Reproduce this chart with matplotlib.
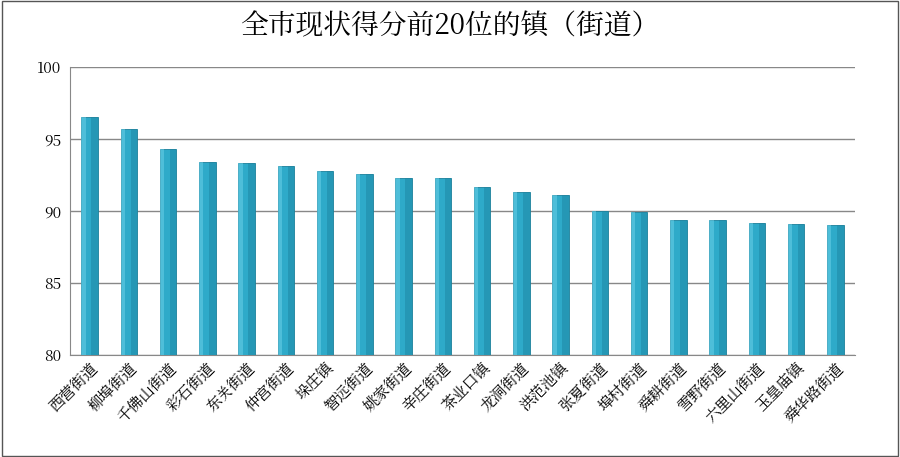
import matplotlib
matplotlib.use("Agg")
import matplotlib.pyplot as plt
from matplotlib import font_manager as fm
from matplotlib.patches import Rectangle
import numpy as np

cjk = None
for f in fm.findSystemFonts():
    if "CJK" in f or "cjk" in f.lower():
        try:
            fm.fontManager.addfont(f)
            name = fm.FontProperties(fname=f).get_name()
            if cjk is None or "SC" in name:
                cjk = name
        except Exception:
            pass
plt.rcParams["font.family"] = [n for n in [cjk, "Noto Sans CJK SC", "DejaVu Sans"] if n]

categories = ["西营街道", "柳埠街道", "千佛山街道", "彩石街道", "东关街道", "仲宫街道", "垛庄镇",
              "智远街道", "姚家街道", "辛庄街道", "茶业口镇", "龙洞街道", "洪范池镇", "张夏街道",
              "埠村街道", "舜耕街道", "雪野街道", "六里山街道", "玉皇庙镇", "舜华路街道"]
values = [96.5, 95.7, 94.3, 93.4, 93.3, 93.1, 92.8, 92.6, 92.3, 92.3,
          91.7, 91.3, 91.1, 90.0, 89.9, 89.4, 89.4, 89.2, 89.1, 89.0]
yticks = [80, 85, 90, 95, 100]
title = "全市现状得分前20位的镇（街道）"

fig = plt.figure(figsize=(9, 4.57), dpi=100)
ax = fig.add_axes([70/900, 1-355/457, 785/900, 288/457])
x = np.arange(len(categories))
bars = ax.bar(x, [v - 80 for v in values], bottom=80, width=0.42, color="#2eaac9",
              edgecolor="#1a7f99", linewidth=0.6, zorder=3)
for b in bars:
    ax.add_patch(Rectangle((b.get_x() + b.get_width()*0.6, b.get_y()), b.get_width()*0.4,
                           b.get_height(), color="#1d86a3", alpha=0.5, zorder=4, lw=0))
    ax.add_patch(Rectangle((b.get_x(), b.get_y()), b.get_width()*0.25,
                           b.get_height(), color="#6fd3ea", alpha=0.5, zorder=4, lw=0))
ax.set_ylim(80, 100)
ax.set_xlim(-0.5, len(categories) - 0.5)
ax.set_yticks(yticks)
ax.set_yticklabels([str(t) for t in yticks], fontsize=11)
ax.yaxis.grid(True, color="#888888", linewidth=1, zorder=0)
ax.set_xticks(x)
ax.set_xticklabels(categories, rotation=45, ha="right", rotation_mode="anchor", fontsize=11)
ax.tick_params(axis="both", length=0)
ax.tick_params(axis="y", pad=6)
for s in ["top", "right"]:
    ax.spines[s].set_visible(False)
ax.spines["left"].set_color("#888888")
ax.spines["bottom"].set_color("#888888")
fig.text(0.5, 1-27/457, title, ha="center", va="center", fontsize=20)
fig.patches.append(Rectangle((0.002, 0.002), 0.996, 0.996, transform=fig.transFigure,
                             fill=False, edgecolor="#555555", linewidth=1))
fig.savefig("out.png", dpi=100)
